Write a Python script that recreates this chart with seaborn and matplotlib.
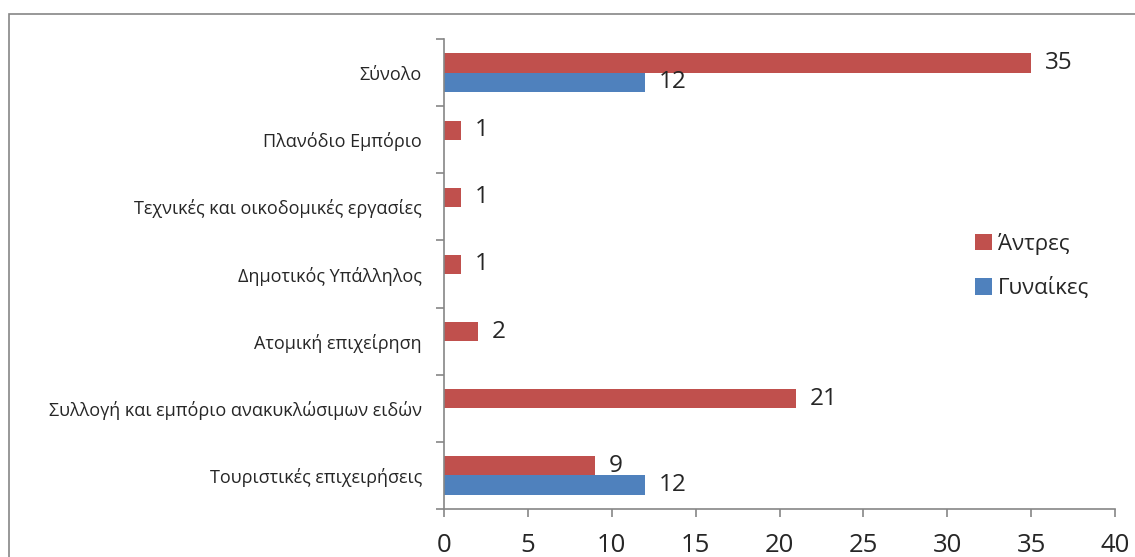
import matplotlib

matplotlib.use("Agg")

import matplotlib.pyplot as plt
import pandas as pd
import seaborn as sns
from matplotlib.patches import Rectangle

categories = [
    "Σύνολο",
    "Πλανόδιο Εμπόριο",
    "Τεχνικές και οικοδομικές εργασίες",
    "Δημοτικός Υπάλληλος",
    "Ατομική επιχείρηση",
    "Συλλογή και εμπόριο ανακυκλώσιμων ειδών",
    "Τουριστικές επιχειρήσεις",
]
men = [35, 1, 1, 1, 2, 21, 9]
women = [12, 0, 0, 0, 0, 0, 12]
series = ["Άντρες", "Γυναίκες"]
colors = ["#C0504D", "#4F81BD"]
x_ticks = [0, 5, 10, 15, 20, 25, 30, 35, 40]

df = pd.DataFrame({
    "category": categories * 2,
    "value": men + women,
    "series": [series[0]] * len(categories) + [series[1]] * len(categories),
})

sns.set_style("white")
plt.rcParams["font.family"] = ["Open Sans", "DejaVu Sans"]

W, H = 1135, 557
fig = plt.figure(figsize=(W / 100, H / 100), dpi=100)
ax = fig.add_axes([444 / W, 1 - 509 / H, (1115 - 444) / W, (509 - 39) / H])

sns.barplot(
    data=df,
    y="category",
    x="value",
    hue="series",
    order=categories,
    hue_order=series,
    palette=colors,
    width=0.57,
    linewidth=0,
    saturation=1,
    ax=ax,
)

# value labels (skip empty bars)
for container in ax.containers:
    labels = [f"{v:g}" if v > 0 else "" for v in container.datavalues]
    texts = ax.bar_label(container, labels=labels, padding=10, fontsize=17.5)
    for t in texts:
        t.set_va("center")

ax.set_xlim(0, 40)
ax.set_ylim(len(categories) - 0.5, -0.5)
ax.set_xticks(x_ticks)
ax.set_xlabel("")
ax.set_ylabel("")

grey = "#868686"
for side in ["top", "right"]:
    ax.spines[side].set_visible(False)
for side in ["left", "bottom"]:
    ax.spines[side].set_color(grey)
    ax.spines[side].set_linewidth(1.2)

ax.tick_params(axis="x", length=6, width=1.2, color=grey, direction="out",
               labelsize=18.5, pad=11, bottom=True)
ax.tick_params(axis="y", which="major", length=0, labelsize=13, pad=16)
ax.set_yticks([i - 0.5 for i in range(len(categories) + 1)], minor=True)
ax.tick_params(axis="y", which="minor", length=6, width=1.2, color=grey,
               direction="out", left=True)

ax.legend(
    loc="center left",
    bbox_to_anchor=(955 / W, 1 - 266 / H),
    bbox_transform=fig.transFigure,
    frameon=False,
    fontsize=16,
    handlelength=0.75,
    handleheight=0.75,
    handletextpad=0.3,
    labelspacing=1.0,
)

fig.patches.append(Rectangle((9 / W, -0.1), 1.2, 1.1 - 14 / H,
                             transform=fig.transFigure, fill=False,
                             edgecolor=grey, linewidth=1.2))

fig.savefig("out.png", dpi=100)
plt.close(fig)
